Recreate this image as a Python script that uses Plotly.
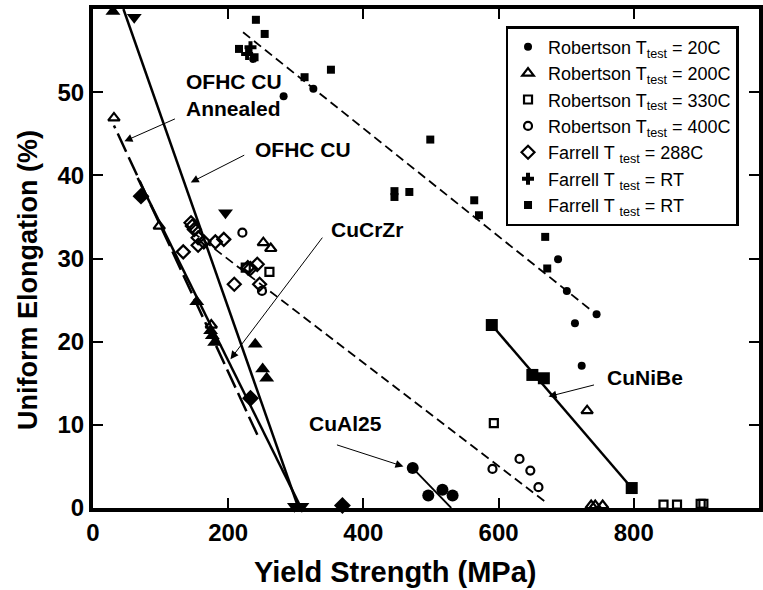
import plotly.graph_objects as go

# ---------------- data ----------------
# Robertson, T_test = 20C (filled circles)
r20_x = [282, 326, 237, 688, 701, 745, 713, 723]
r20_y = [49.5, 50.4, 54.0, 29.9, 26.1, 23.3, 22.2, 17.1]
# CuAl25 points (Robertson 20C, large)
cual_x = [473, 496, 517, 532]
cual_y = [4.8, 1.5, 2.2, 1.5]
# Robertson, T_test = 200C (open triangles)
r200_x = [31, 98, 175, 252, 263, 731, 737, 743, 754]
r200_y = [46.9, 33.9, 22.0, 31.9, 31.2, 11.7, 0.3, 0.3, 0.3]
# Robertson, T_test = 330C (open squares)
r330_x = [261, 226, 593, 844, 864, 899, 903]
r330_y = [28.4, 28.9, 10.2, 0.4, 0.4, 0.5, 0.5]
# Robertson, T_test = 400C (open circles)
r400_x = [221, 250, 591, 631, 647, 659]
r400_y = [33.1, 26.1, 4.7, 5.9, 4.5, 2.5]
# Farrell, T_test = 288C (open diamonds)
f288_x = [145, 147, 150, 155.5, 155.5, 164, 181, 193.5, 133.5, 209, 243, 233, 246.5, 229]
f288_y = [34.3, 33.9, 33.5, 32.5, 31.6, 32.0, 32.0, 32.3, 30.8, 26.9, 29.3, 28.8, 26.9, 28.9]
# Farrell, T_test = RT (crosses)
frt_cross_x = [233, 228]
frt_cross_y = [55.4, 54.6]
# Farrell, T_test = RT (filled squares)
frt_sq_x = [241, 254, 216, 239, 352, 313, 499, 446, 446, 468, 564, 571, 669, 672]
frt_sq_y = [58.7, 57.0, 55.2, 54.2, 52.7, 51.8, 44.3, 38.1, 37.4, 38.0, 37.0, 35.2, 32.6, 28.8]
# CuNiBe points (large filled squares)
cunibe_x = [590, 650, 667, 797]
cunibe_y = [22.0, 16.0, 15.6, 2.4]
# other series (no legend entry)
tri_x = [29.5, 153.5, 174, 176.5, 180, 240, 251, 257]
tri_y = [59.7, 24.8, 21.3, 20.7, 19.9, 19.7, 16.7, 15.6]
dtri_x = [61, 196, 298, 309]
dtri_y = [59.0, 35.5, 0.2, 0.2]
dia_x = [71, 233, 369]
dia_y = [37.5, 13.2, 0.3]

# trend lines (end points)
ofhc_x, ofhc_y = [45, 304], [60, 0]
anneal_x, anneal_y = [31, 246], [46.0, 8.3]
lineA_x, lineA_y = [66, 308], [39.7, 0]
low_dash_x, low_dash_y = [147, 673], [33.2, 0.5]
up_dash_x, up_dash_y = [222, 735], [57.2, 23.9]
cual_line_x, cual_line_y = [473, 530], [4.8, 0]
cunibe_line_x, cunibe_line_y = [590, 797], [22.0, 2.4]

x_ticks = [0, 200, 400, 600, 800]
y_ticks = [0, 10, 20, 30, 40, 50]

FONT = "Liberation Sans"
fig = go.Figure()


def add_line(xs, ys, dash, width):
    fig.add_trace(go.Scatter(x=xs, y=ys, mode="lines", showlegend=False,
                             hoverinfo="skip", cliponaxis=False,
                             line=dict(color="black", width=width, dash=dash)))


add_line(ofhc_x, ofhc_y, "solid", 2.5)
add_line(anneal_x, anneal_y,
         "3px,6px,20px,6px,20px,6px,20px,6px,20px,6px,20px,6px,20px,6px,20px,6px,"
         "20px,6px,20px,6px,20px,6px,20px,6px,20px,6px,20px,6px,20px,6px", 2.5)
add_line(lineA_x, lineA_y, "solid", 2.5)
add_line(low_dash_x, low_dash_y, "9px,5px", 1.8)
add_line(up_dash_x, up_dash_y, "9px,5px", 1.8)
add_line(cual_line_x, cual_line_y, "solid", 1.8)
add_line(cunibe_line_x, cunibe_line_y, "solid", 2.5)


def add_pts(xs, ys, symbol, size, name=None, lw=0, legend=False, group=None):
    fig.add_trace(go.Scatter(
        x=xs, y=ys, mode="markers", name=name, showlegend=legend,
        legendgroup=group, cliponaxis=False,
        marker=dict(symbol=symbol, size=size, color="black",
                    line=dict(color="black", width=lw))))


add_pts(tri_x, tri_y, "triangle-up", 13)
add_pts(dtri_x, dtri_y, "triangle-down", 13)
add_pts(dia_x, dia_y, "diamond", 13)
add_pts(cual_x, cual_y, "circle", 12, group="r20")
add_pts(cunibe_x, cunibe_y, "square", 12, group="frt2")

add_pts(r20_x, r20_y, "circle", 8, "Robertson T<sub>test</sub> = 20C", legend=True, group="r20")
add_pts(r200_x, r200_y, "triangle-up-open", 10, "Robertson T<sub>test</sub> = 200C", lw=2.2, legend=True)
add_pts(r330_x, r330_y, "square-open", 8, "Robertson T<sub>test</sub> = 330C", lw=2.2, legend=True)
add_pts(r400_x, r400_y, "circle-open", 8, "Robertson T<sub>test</sub> = 400C", lw=2.2, legend=True)
add_pts(f288_x, f288_y, "diamond-open", 10, "Farrell T <sub>test</sub> = 288C", lw=2.2, legend=True)
add_pts(frt_cross_x, frt_cross_y, "cross", 10, "Farrell T <sub>test</sub> = RT", legend=True)
add_pts(frt_sq_x, frt_sq_y, "square", 8, "Farrell T <sub>test</sub> = RT", legend=True, group="frt2")

lab_font = dict(family=FONT, size=21, color="black", weight="bold")
labels = [
    ("OFHC CU<br>Annealed", 134.7, 49.7, "left"),
    ("OFHC CU", 311, 43.1, "center"),
    ("CuCrZr", 406, 33.5, "center"),
    ("CuAl25", 373, 10.2, "center"),
    ("CuNiBe", 816, 15.75, "center"),
]
for txt, lx, ly, anc in labels:
    fig.add_annotation(x=lx, y=ly, text=txt, showarrow=False, xanchor=anc,
                       yanchor="middle", align="left", font=lab_font)

arrows = [  # tip (data), tail offset (px)
    (46.5, 44.1, 52, -23),
    (144.6, 39.15, 55, -28),
    (203.4, 17.9, 93, -123),
    (459.3, 5.0, -68, -22),
    (673.9, 13.4, 47, -12),
]
for tx, ty, ax, ay in arrows:
    fig.add_annotation(x=tx, y=ty, ax=ax, ay=ay, text="", showarrow=True,
                       arrowhead=2, arrowsize=1.6, arrowwidth=1, arrowcolor="black")

tick_font = dict(family=FONT, size=24, color="black", weight="bold")
title_font = dict(family=FONT, color="black", weight="bold")

fig.add_annotation(text="Yield Strength (MPa)", xref="paper", yref="paper",
                   x=(397 - 93) / 670, y=-(572 - 508) / 499, showarrow=False,
                   xanchor="center", yanchor="middle", font=dict(title_font, size=29))
fig.add_annotation(text="Uniform Elongation (%)", xref="paper", yref="paper",
                   x=-(93 - 27.5) / 670, y=(508 - 280) / 499, showarrow=False,
                   textangle=-90, xanchor="center", yanchor="middle",
                   font=dict(title_font, size=27))

fig.update_layout(
    width=763, height=590,
    margin=dict(l=93, r=0, t=9, b=82),
    paper_bgcolor="white", plot_bgcolor="white",
    font=dict(family=FONT, color="black"),
    showlegend=True,
    legend=dict(x=(508 - 93) / 670, y=(508 - 26) / 499, xanchor="left", yanchor="top",
                bgcolor="white", bordercolor="black", borderwidth=2.5,
                font=dict(family=FONT, size=18, color="black"),
                tracegroupgap=0, itemsizing="trace"),
    xaxis=dict(range=[0, 670 / 0.68], tickvals=x_ticks, ticks="inside", ticklen=10,
               tickwidth=2, tickcolor="black", showline=True, linewidth=4,
               linecolor="black", mirror="ticks", showgrid=False, zeroline=False,
               tickfont=tick_font),
    yaxis=dict(range=[0, 60], tickvals=y_ticks, ticks="inside", ticklen=10,
               tickwidth=2, tickcolor="black", showline=True, linewidth=4,
               linecolor="black", mirror="ticks", showgrid=False, zeroline=False,
               tickfont=tick_font),
)

fig.write_html("out.html")
